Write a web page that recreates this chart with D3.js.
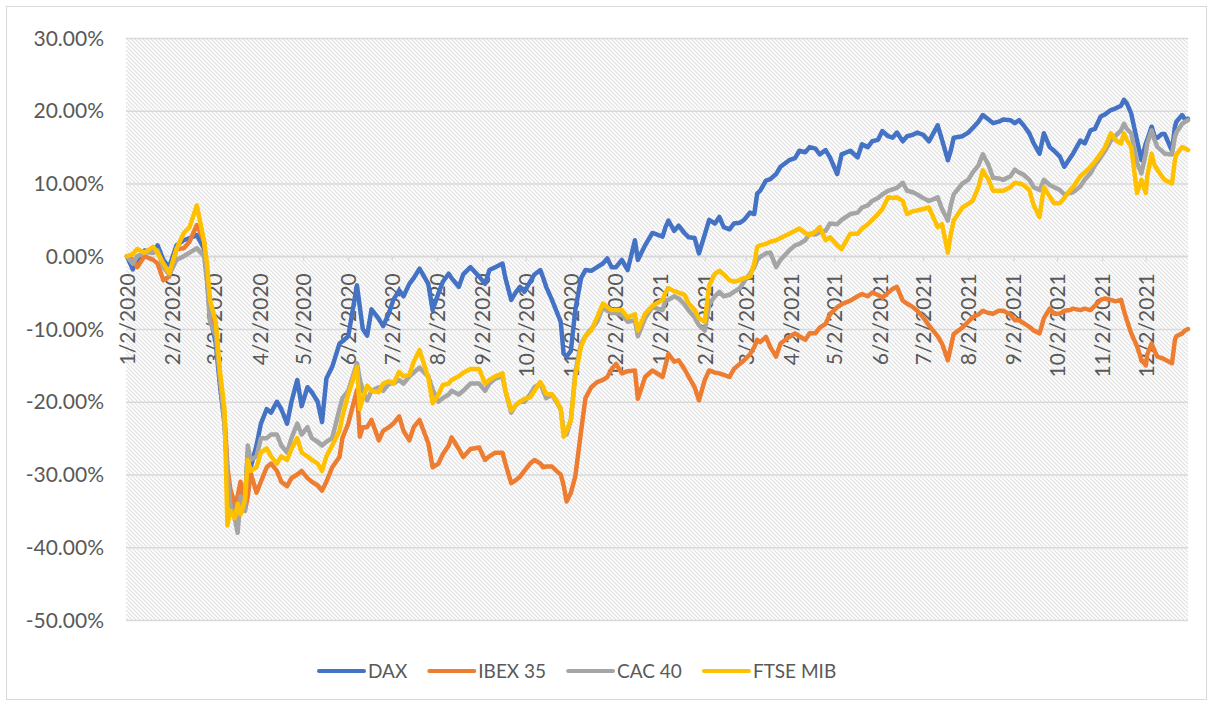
<!DOCTYPE html>
<html>
<head>
<meta charset="utf-8">
<script src="https://cdn.jsdelivr.net/npm/d3@7"></script>
<style>
body { margin: 0; background: #fff; }
text { font-family: Lato, 'Open Sans', sans-serif; fill: #595959; }
</style>
</head>
<body>
<svg width="1213" height="706"></svg>
<script>
// trading dates (shared by all four series)
var dates = `
2020-01-02 2020-01-06 2020-01-09 2020-01-14 2020-01-20 2020-01-23 2020-01-27 2020-01-31
2020-02-05 2020-02-10 2020-02-14 2020-02-19 2020-02-24 2020-02-26 2020-02-28
2020-03-03 2020-03-06 2020-03-09 2020-03-11 2020-03-13 2020-03-16 2020-03-18 2020-03-20 2020-03-23 2020-03-25 2020-03-27 2020-03-31
2020-04-03 2020-04-07 2020-04-10 2020-04-14 2020-04-17 2020-04-21 2020-04-24 2020-04-28
2020-05-01 2020-05-05 2020-05-08 2020-05-12 2020-05-15 2020-05-18 2020-05-22 2020-05-27 2020-05-29
2020-06-02 2020-06-08 2020-06-10 2020-06-12 2020-06-15 2020-06-18 2020-06-23 2020-06-26 2020-06-30
2020-07-03 2020-07-07 2020-07-10 2020-07-14 2020-07-17 2020-07-21 2020-07-27 2020-07-30
2020-08-03 2020-08-06 2020-08-10 2020-08-12 2020-08-17 2020-08-20 2020-08-25 2020-08-31
2020-09-04 2020-09-07 2020-09-11 2020-09-16 2020-09-18 2020-09-22 2020-09-25 2020-09-28
2020-10-01 2020-10-05 2020-10-08 2020-10-12 2020-10-14 2020-10-16 2020-10-20 2020-10-23 2020-10-26 2020-10-28 2020-10-30
2020-11-02 2020-11-05 2020-11-09 2020-11-12 2020-11-16 2020-11-20 2020-11-24 2020-11-27 2020-11-30
2020-12-03 2020-12-07 2020-12-11 2020-12-16 2020-12-18 2020-12-23 2020-12-28
2021-01-04 2021-01-06 2021-01-08 2021-01-12 2021-01-15 2021-01-19 2021-01-22 2021-01-26 2021-01-29
2021-02-02 2021-02-05 2021-02-09 2021-02-12 2021-02-15 2021-02-19 2021-02-22 2021-02-26
2021-03-01 2021-03-05 2021-03-08 2021-03-10 2021-03-12 2021-03-16 2021-03-19 2021-03-23 2021-03-26
2021-04-01 2021-04-05 2021-04-08 2021-04-12 2021-04-15 2021-04-19 2021-04-22 2021-04-26 2021-04-29
2021-05-04 2021-05-07 2021-05-13 2021-05-18 2021-05-21 2021-05-25 2021-05-28
2021-06-01 2021-06-04 2021-06-08 2021-06-11 2021-06-14 2021-06-18 2021-06-21 2021-06-25 2021-06-28
2021-07-02 2021-07-06 2021-07-12 2021-07-15 2021-07-19 2021-07-21 2021-07-23 2021-07-29
2021-08-02 2021-08-05 2021-08-09 2021-08-12 2021-08-16 2021-08-19 2021-08-23 2021-08-26 2021-08-31
2021-09-03 2021-09-06 2021-09-09 2021-09-13 2021-09-16 2021-09-20 2021-09-23 2021-09-27 2021-09-30
2021-10-04 2021-10-07 2021-10-11 2021-10-13 2021-10-18 2021-10-21 2021-10-25 2021-10-28
2021-11-01 2021-11-04 2021-11-08 2021-11-11 2021-11-15 2021-11-17 2021-11-19 2021-11-22 2021-11-26 2021-11-29
2021-12-02 2021-12-03 2021-12-06 2021-12-08 2021-12-10 2021-12-13 2021-12-15 2021-12-20 2021-12-22 2021-12-23 2021-12-27 2021-12-29 2021-12-31
`.trim().split(/\s+/);

// cumulative return in %
var dax = [0, -1.8, -0.5, 0.8, 0.5, 1.5, -0.5, -1.5, 1.5, 2.2,
  2.5, 2.9, 1, -3, -8, -12, -18, -23, -30, -33,
  -36, -37, -32, -34, -27, -29, -26, -23, -21, -21.5,
  -20, -21, -23, -20, -17, -20.6, -18, -18.7, -20, -22.8,
  -16.8, -15.2, -12, -11.7, -11, -4, -7, -10, -10.9, -7.3,
  -8.6, -9.6, -7.8, -6, -4.7, -5.5, -3.8, -3, -1.7, -3.8,
  -7.4, -5.1, -3.5, -2.4, -3, -4.2, -2.5, -1.5, -2.8, -3.8,
  -1.9, -1.5, -1, -3, -6, -5, -4.2, -4.9, -3.5, -2.5,
  -1.9, -3, -4.2, -6, -7.5, -9, -13.4, -13.8, -13, -7.4,
  -3, -1.9, -2, -1.5, -1, -0.3, -1.5, -1.5, -0.5, -1.9,
  2.2, -0.5, 1.5, 3.2, 2.7, 4, 4.9, 3.5, 4.2, 3.2,
  2.6, 2.5, 0.4, 3, 5, 4.5, 5.4, 4, 3.7, 4.5,
  4.6, 5, 6, 5.8, 8.6, 9, 10.4, 10.6, 11.3, 12.3,
  13.2, 13.5, 14.5, 14.3, 15, 14.8, 14, 14.6, 13.6, 11.3,
  14, 14.5, 13.6, 15.4, 15, 15.8, 16, 17.2, 16.5, 16.3,
  17, 15.8, 16.5, 16.7, 17, 16.7, 15.8, 18, 16, 13.2,
  14.5, 16.3, 16.5, 17, 17.6, 18.5, 19.4, 18.8, 18.3, 18.5,
  18.8, 18.7, 18.3, 18.7, 18, 16.9, 15.5, 14.1, 16.9, 15,
  14.5, 13.7, 12.3, 13.5, 14.1, 15.9, 15.5, 17.3, 17.5, 19.2,
  19.5, 20.1, 20.3, 20.7, 21.5, 21, 19.6, 15.9, 13.2, 15.5,
  16, 17.8, 16.5, 16.3, 16.8, 16.8, 14.5, 17.8, 18.5, 19.4,
  18.8, 18.9];

var ibex = [0, -0.5, -1.5, 0, -0.5, -1, -3.3, -2.8, 1, 1.1,
  2, 4.3, 2, -3, -7, -10, -17, -22, -29, -32,
  -34, -33, -31, -35, -33, -29.8, -32.5, -31, -29, -28.5,
  -29.5, -31, -31.6, -30.5, -30, -29.5, -30.5, -31, -31.5, -32.2,
  -31, -29, -27.6, -25, -23, -18.4, -24.8, -23.5, -23.5, -22.5,
  -25.3, -24, -23.5, -23, -22, -24, -25.3, -23.5, -22.5, -25.7,
  -29, -28.5, -27.2, -26, -24.9, -26.5, -27.6, -26.5, -26.3, -28,
  -27.5, -27, -27, -28.5, -31.2, -30.8, -30.3, -29.5, -28.5, -28,
  -28.5, -29, -28.9, -28.9, -29.5, -30, -31.5, -33.7, -32.5, -30.3,
  -24, -19.5, -18, -17.3, -17, -16.6, -15.5, -14.8, -16.1, -15.8,
  -15.7, -19.6, -16.6, -15.7, -16.6, -15, -13.4, -14.5, -14.3, -15.5,
  -16.6, -18, -19.8, -17, -15.7, -16, -16.1, -16.3, -16.6, -15.5,
  -14.8, -14.3, -13.5, -12.5, -11.5, -11.8, -11.1, -12.5, -13.8, -12,
  -11.1, -10.6, -11, -11.5, -10.6, -10.6, -9.8, -9.3, -8, -7,
  -6.6, -6.1, -5.5, -5.2, -5.5, -5, -5.3, -5.7, -5, -4.5,
  -4.2, -6.1, -6.5, -7, -7.5, -8.4, -9.5, -11, -12, -14.3,
  -12.5, -10.7, -9.8, -9, -8.4, -8, -7.5, -7.8, -7.9, -7.5,
  -7.5, -8, -8.8, -8.8, -9.2, -9.7, -10.2, -10.6, -8.5, -7.2,
  -7.9, -7.9, -7.5, -7.4, -7.2, -7.4, -7.2, -7.4, -6.8, -6,
  -5.8, -6, -6.2, -6, -7.5, -8.8, -10.6, -12.4, -14.2, -15,
  -13.5, -12, -13, -13.8, -14, -14.2, -14.7, -11.5, -11, -10.6,
  -10.2, -10];

var cac = [0, -1, 0, 0.5, 0.5, 0.8, -1.5, -2.5, -0.5, 0,
  0.5, 1.1, 0, -3.5, -9, -11, -17, -23, -30, -34,
  -36, -38, -33, -35, -26, -28, -27.5, -25, -25, -24.5,
  -24.5, -26, -27, -25, -23, -24.5, -23.5, -25, -25.5, -26,
  -25.5, -25, -21, -19.5, -18.5, -14.7, -17, -18.5, -19.8, -18.5,
  -18, -18.5, -17.5, -17.5, -17, -17.5, -16.5, -16, -15.3, -16.5,
  -18.3, -20, -19.5, -19, -18.5, -19, -18.5, -17.5, -17.5, -18.5,
  -17.5, -16.8, -16.5, -18.5, -21.5, -20.5, -20, -20, -19, -18,
  -17.5, -18.5, -19.5, -19, -20, -21, -24, -24.5, -22.5, -16,
  -12, -11, -10, -9, -7, -7.5, -7.8, -7.8, -8, -9,
  -8.8, -11, -8.5, -7, -7.4, -6, -6, -5.5, -5.8, -6.6,
  -7.5, -8.4, -9.5, -10.2, -6.6, -5.5, -4.9, -5.5, -5.3, -4.9,
  -4.4, -3.5, -2.4, -1.5, -0.5, -0.1, 0.4, 0.5, -1.5, -0.5,
  0.8, 1.5, 1.7, 2.2, 3.1, 3, 3.3, 3.5, 4.5, 4.4,
  5, 5.8, 6, 6.7, 7, 7.6, 8, 8.5, 9, 9.2,
  9.4, 10.1, 9, 8.8, 8.5, 8, 7.6, 8.1, 6.5, 4.9,
  7, 8.5, 10, 10.5, 11.5, 12.5, 14, 12.5, 10.8, 10.7,
  10.5, 11, 11.9, 11.5, 11.2, 10.5, 9.5, 9.1, 10.5, 9.8,
  9.5, 9.1, 8.5, 8.7, 8.8, 9.6, 10.5, 11.4, 12.5, 13.6,
  14.5, 15.9, 16.5, 17.3, 18.2, 17.5, 16.9, 12.8, 11.4, 14.1,
  15.5, 17.3, 16, 15, 14.5, 14.1, 14, 16.4, 17, 18.2,
  18.5, 18.7];

var ftse = [0, 0.3, 1, 0.5, 1.3, 0.5, -1, -2.3, 1, 3.2,
  4, 7, 2, -1, -6, -9, -16, -21, -37, -35,
  -36, -34, -35.5, -33.5, -28, -29.5, -29, -27, -26.4, -27.5,
  -28.5, -27.5, -28, -26.5, -25, -27, -27.5, -28, -28.5, -29.5,
  -27.5, -26, -24, -22, -19, -15.2, -21, -19.5, -17.8, -18.5,
  -18.7, -17.5, -17.2, -17.5, -15.9, -16.5, -16.3, -14.5, -12.9, -16.7,
  -20.2, -19, -17.7, -17.5, -17, -16.5, -16, -15.5, -15.5, -17.5,
  -17, -16.5, -16.1, -18.5, -21.2, -20.5, -20, -19.6, -19.4, -18.5,
  -17.3, -18, -18.9, -19, -19.8, -21, -24.8, -24, -22.5, -16.5,
  -12.4, -11, -10.2, -8.4, -6.5, -7, -7.4, -7.4, -7.4, -8.4,
  -8, -10.2, -7.9, -6.8, -6, -5, -4.4, -4.8, -5, -5.3,
  -6.5, -7.4, -8.5, -9, -4, -2.4, -2, -2.5, -3.3, -3.5,
  -3.3, -3, -2.8, -1, 1.3, 1.5, 1.7, 2, 2.2, 2.5,
  3.1, 3.5, 3.8, 3.2, 2.9, 3.4, 4, 2.2, 2.6, 1.5,
  1, 3.1, 3.1, 3.8, 4.4, 5, 5.8, 6.5, 8.1, 8,
  8.1, 7.6, 5.8, 6.2, 6.3, 6.5, 6.7, 4, 4.4, 0.5,
  3, 4.9, 6.7, 7.2, 7.6, 9.5, 11.8, 10.5, 9, 9,
  9, 9.5, 10.1, 10, 9.8, 9.1, 7, 5.4, 9.5, 8.2,
  7.3, 7.3, 8, 9.1, 9.5, 11, 11.5, 12.3, 13, 14.1,
  15, 16.9, 16, 15.5, 16.9, 16, 15, 8.7, 10.5, 8.7,
  11, 14.1, 12.5, 11.9, 11, 10.5, 10, 13.2, 14, 15,
  14.8, 14.6];

var seriesNames = ['DAX', 'IBEX 35', 'CAC 40', 'FTSE MIB'];
var seriesColors = ['#4472C4', '#ED7D31', '#A5A5A5', '#FFC000'];
var yTicks = [-50, -40, -30, -20, -10, 0, 10, 20, 30];
var xTickLabels = ['1/2/2020', '2/2/2020', '3/2/2020', '4/2/2020', '5/2/2020', '6/2/2020',
  '7/2/2020', '8/2/2020', '9/2/2020', '10/2/2020', '11/2/2020', '12/2/2020',
  '1/2/2021', '2/2/2021', '3/2/2021', '4/2/2021', '5/2/2021', '6/2/2021',
  '7/2/2021', '8/2/2021', '9/2/2021', '10/2/2021', '11/2/2021', '12/2/2021'];

var svg = d3.select('svg');
var parseDate = d3.timeParse('%Y-%m-%d');
var parseTick = d3.timeParse('%m/%d/%Y');

var plot = {l: 126, r: 1188, t: 38, b: 620};

var x = d3.scaleTime()
    .domain([parseDate('2020-01-02'), parseDate('2021-12-31')])
    .range([plot.l + 1, plot.r]);
var y = d3.scaleLinear()
    .domain([-50, 30])
    .range([plot.b, plot.t]);

// chart area border
svg.append('rect')
    .attr('x', 6.5).attr('y', 6.5)
    .attr('width', 1200).attr('height', 693)
    .attr('fill', '#fff')
    .attr('stroke', '#d9d9d9');

// hatched plot area
var pat = svg.append('defs').append('pattern')
    .attr('id', 'hatch')
    .attr('patternUnits', 'userSpaceOnUse')
    .attr('width', 4).attr('height', 4);
pat.append('rect').attr('width', 4).attr('height', 4).attr('fill', '#fff');
pat.append('path')
    .attr('d', 'M-1,-1L5,5M-1,3L1,5M3,-1L5,1')
    .attr('stroke', '#e0e0e0')
    .attr('stroke-width', 1.1);

svg.append('rect')
    .attr('x', plot.l).attr('y', plot.t)
    .attr('width', plot.r - plot.l).attr('height', plot.b - plot.t)
    .attr('fill', 'url(#hatch)');

// horizontal gridlines
svg.append('g')
    .attr('class', 'y-grid')
    .attr('transform', 'translate(' + plot.l + ',0)')
    .call(d3.axisLeft(y).tickValues(yTicks).tickSize(-(plot.r - plot.l)).tickFormat(''))
    .call(function(g) { g.select('.domain').remove(); })
    .selectAll('line')
    .attr('stroke', '#d9d9d9')
    .attr('stroke-width', 1.5);

// y labels
svg.append('g')
    .selectAll('text')
    .data(yTicks)
    .enter()
    .append('text')
    .attr('x', 104)
    .attr('y', function(d) { return y(d); })
    .attr('dy', '0.36em')
    .attr('text-anchor', 'end')
    .style('font-size', '21px')
    .text(function(d) { return d.toFixed(2) + '%'; });

// x axis on the zero line, labels rotated
var xAxis = svg.append('g')
    .attr('class', 'x axis')
    .attr('transform', 'translate(0,' + y(0) + ')')
    .call(d3.axisBottom(x)
        .tickValues(xTickLabels.map(function(s) { return parseTick(s); }))
        .tickSizeInner(5)
        .tickSizeOuter(0)
        .tickFormat(function(d, i) { return xTickLabels[i]; }));
xAxis.select('.domain')
    .attr('stroke', '#d9d9d9')
    .attr('stroke-width', 1.5)
    .attr('d', 'M' + plot.l + ',0H' + plot.r);
xAxis.selectAll('line').attr('stroke', '#d9d9d9').attr('stroke-width', 1.3);
xAxis.selectAll('text')
    .attr('transform', 'rotate(-90)')
    .attr('x', -17)
    .attr('y', 0)
    .attr('dy', '0.36em')
    .attr('text-anchor', 'end')
    .attr('fill', null)
    .style('font-size', '21px');
xAxis.attr('font-family', null).attr('font-size', null);

// lines
var allSeries = [dax, ibex, cac, ftse].map(function(vals, i) {
    return {
        name: seriesNames[i],
        color: seriesColors[i],
        values: vals.map(function(v, j) { return {date: parseDate(dates[j]), v: v}; })
    };
});

var line = d3.line()
    .x(function(d) { return x(d.date); })
    .y(function(d) { return y(d.v); });

svg.selectAll('.line-plot')
    .data(allSeries)
    .enter()
    .append('path')
    .attr('class', 'line-plot')
    .attr('d', function(d) { return line(d.values); })
    .attr('fill', 'none')
    .attr('stroke', function(d) { return d.color; })
    .attr('stroke-width', 4.5)
    .attr('stroke-linejoin', 'round')
    .attr('stroke-linecap', 'round');

// legend
var legend = svg.append('g').attr('class', 'legend');
var lx = 319;
allSeries.forEach(function(s) {
    legend.append('line')
        .attr('x1', lx).attr('x2', lx + 45)
        .attr('y1', 671).attr('y2', 671)
        .attr('stroke', s.color)
        .attr('stroke-width', 4)
        .attr('stroke-linecap', 'round');
    var t = legend.append('text')
        .attr('x', lx + 49)
        .attr('y', 671)
        .attr('dy', '0.36em')
        .style('font-size', '19px')
        .text(s.name);
    lx += 49 + t.node().getComputedTextLength() + 22;
});
</script>
</body>
</html>
